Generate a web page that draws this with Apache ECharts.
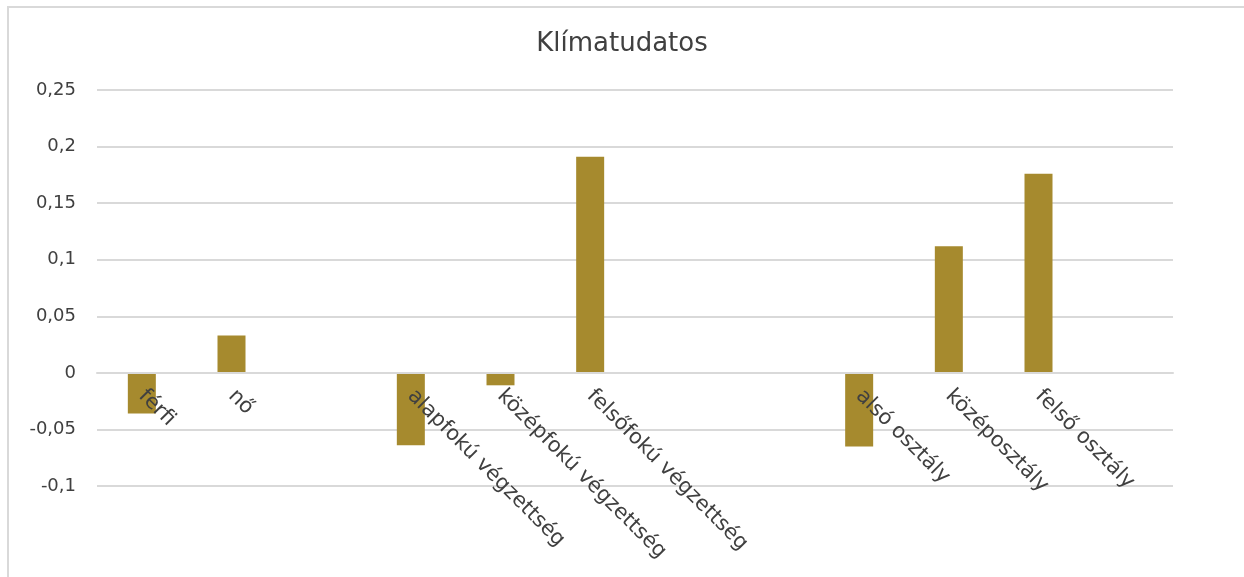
<!DOCTYPE html>
<html>
<head>
<meta charset="utf-8">
<script src="https://cdn.jsdelivr.net/npm/echarts@6/dist/echarts.min.js"></script>
<style>
  html, body { margin: 0; padding: 0; background: #fff; }
  #frame { position: absolute; left: 7px; top: 6px; width: 1240px; height: 580px; border: 2px solid #d9d9d9; box-sizing: border-box; }
  #main { position: absolute; left: 0; top: 0; width: 1244px; height: 577px; }
</style>
</head>
<body>
<div id="frame"></div>
<div id="main"></div>
<script>
// kategóriák (üresek a csoportok közti hézagok)
var categories = ['férfi', 'nő', '', 'alapfokú végzettség', 'középfokú végzettség', 'felsőfokú végzettség', '', '', 'alsó osztály', 'középosztály', 'felső osztály', ''];
var values = [-0.036, 0.033, null, -0.064, -0.011, 0.191, null, null, -0.065, 0.112, 0.176, null];
var yMin = -0.1;
var yMax = 0.25;
var yStep = 0.05;

var font = 'DejaVu Sans';
var gridTop = 90, gridBottom = 91, chartHeight = 577;
// a kategóriatengely (feliratokkal együtt) a 0 vonalra kerül
var zeroOffset = -(chartHeight - gridTop - gridBottom) * (0 - yMin) / (yMax - yMin);

var chart = echarts.init(document.getElementById('main'), null, { renderer: 'canvas' });

var option = {
  animation: false,
  title: {
    text: 'Klímatudatos',
    left: 'center',
    top: 26,
    textStyle: { fontFamily: font, fontSize: 26, fontWeight: 'normal', color: '#404040' }
  },
  grid: { left: 97, right: 71, top: gridTop, bottom: gridBottom, outerBoundsMode: 'none', containLabel: false },
  xAxis: {
    type: 'category',
    data: categories,
    offset: zeroOffset,
    z: 10,
    axisTick: { show: false },
    axisLine: { onZero: false, lineStyle: { color: '#d9d9d9', width: 2 } },
    axisLabel: {
      interval: 0,
      rotate: -45,
      margin: 20,
      fontFamily: font,
      fontSize: 21,
      color: '#404040'
    }
  },
  yAxis: {
    type: 'value',
    min: yMin,
    max: yMax,
    interval: yStep,
    axisLine: { show: false },
    axisTick: { show: false },
    splitLine: { lineStyle: { color: '#d9d9d9', width: 2 } },
    axisLabel: {
      margin: 21,
      fontFamily: font,
      fontSize: 18,
      color: '#404040',
      formatter: function (v) {
        return String(Math.round(v * 100) / 100).replace('.', ',');
      }
    }
  },
  series: [{
    type: 'bar',
    data: values,
    barWidth: 28,
    itemStyle: { color: '#a68a2e' }
  }]
};
chart.setOption(option);
</script>
</body>
</html>
